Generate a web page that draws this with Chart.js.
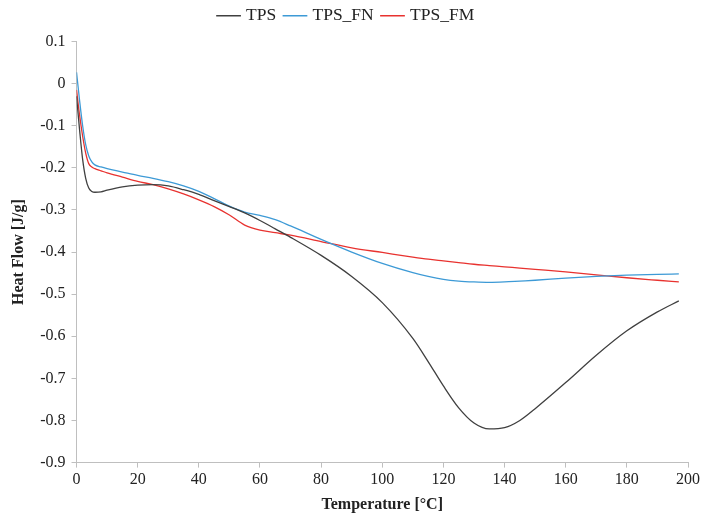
<!DOCTYPE html>
<html>
<head>
<meta charset="utf-8">
<script src="https://cdn.jsdelivr.net/npm/chart.js@4"></script>
<style>
  body { margin: 0; background: #fff; }
  #wrap { width: 703px; height: 522px; position: relative; }
</style>
</head>
<body>
<div id="wrap"><canvas id="myChart"></canvas></div>
<script>
// temperature [°C]
var temps = [0, 1, 2, 3, 4, 5, 6, 8, 10, 15, 20, 25, 30, 35, 40, 45, 50, 55, 60, 65, 70, 80, 90, 100, 110, 115, 120, 125, 130, 135, 140, 145, 150, 160, 170, 180, 190, 197];

// heat flow [J/g]
var tps = [-0.03, -0.11, -0.18, -0.225, -0.248, -0.256, -0.258, -0.257, -0.253, -0.245, -0.241, -0.24, -0.243, -0.252, -0.263, -0.278, -0.292, -0.307, -0.325, -0.345, -0.365, -0.408, -0.458, -0.52, -0.605, -0.66, -0.718, -0.77, -0.806, -0.82, -0.817, -0.8, -0.772, -0.71, -0.645, -0.587, -0.542, -0.516];
var tpsFN = [0.027, -0.04, -0.1, -0.145, -0.172, -0.186, -0.193, -0.198, -0.202, -0.21, -0.218, -0.225, -0.233, -0.243, -0.256, -0.273, -0.291, -0.305, -0.313, -0.323, -0.338, -0.37, -0.4, -0.427, -0.449, -0.458, -0.465, -0.469, -0.471, -0.472, -0.471, -0.469, -0.467, -0.462, -0.458, -0.455, -0.453, -0.452];
var tpsFM = [-0.015, -0.075, -0.125, -0.165, -0.19, -0.198, -0.202, -0.207, -0.212, -0.222, -0.232, -0.24, -0.25, -0.262, -0.276, -0.292, -0.312, -0.336, -0.348, -0.354, -0.36, -0.375, -0.39, -0.401, -0.412, -0.417, -0.421, -0.425, -0.429, -0.432, -0.435, -0.438, -0.441, -0.447, -0.454, -0.461, -0.467, -0.471];

var seriesNames = ["TPS", "TPS_FN", "TPS_FM"];
var lineColors = ["#404040", "#3d9ad6", "#e8322f"];

function toPoints(values) {
	return values.map(function (v, i) {
		return { x: temps[i], y: v };
	});
}

var axisFont = { family: "'Liberation Serif', 'Times New Roman', serif", size: 16 };
var legendFont = { family: "'Liberation Serif', 'Times New Roman', serif", size: 17.5 };
var titleFont = { family: "'Liberation Serif', 'Times New Roman', serif", size: 16, weight: "bold" };

// a bit more room under the legend
const legendGap = {
	id: "legendGap",
	beforeInit(chart) {
		const fit = chart.legend.fit;
		chart.legend.fit = function () {
			fit.bind(chart.legend)();
			this.height += 7;
		};
	},
};

const myChart = new Chart(document.getElementById("myChart"), {
	type: "line",
	data: {
		datasets: [tps, tpsFN, tpsFM].map(function (vals, i) {
			return {
				label: seriesNames[i],
				data: toPoints(vals),
				borderColor: lineColors[i],
				backgroundColor: lineColors[i],
				borderWidth: 1.3,
				pointRadius: 0,
				cubicInterpolationMode: "monotone",
				fill: false,
			};
		}),
	},
	plugins: [legendGap],
	options: {
		responsive: true,
		maintainAspectRatio: false,
		animation: false,
		layout: { padding: { left: 5, right: 14, top: -3, bottom: 4 } },
		plugins: {
			legend: {
				position: "top",
				labels: {
					usePointStyle: true,
					pointStyle: "line",
					boxWidth: 22,
					padding: 10,
					color: "#222",
					font: legendFont,
				},
			},
			tooltip: { enabled: false },
		},
		scales: {
			x: {
				type: "linear",
				min: 0,
				max: 200,
				ticks: { stepSize: 20, color: "#222", font: axisFont, maxRotation: 0 },
				grid: { drawOnChartArea: false, color: "#bfbfbf", tickLength: 5 },
				border: { color: "#bfbfbf" },
				title: { display: true, text: "Temperature [°C]", color: "#222", font: titleFont, padding: { top: 2 } },
			},
			y: {
				min: -0.9,
				max: 0.1,
				ticks: {
					stepSize: 0.1,
					color: "#222",
					font: axisFont,
					padding: 6,
					callback: function (v) { return String(Number(v.toFixed(1))); },
				},
				grid: { drawOnChartArea: false, color: "#bfbfbf", tickLength: 5 },
				border: { color: "#bfbfbf" },
				title: { display: true, text: "Heat Flow [J/g]", color: "#222", font: titleFont, padding: { bottom: 6 } },
			},
		},
	},
});
</script>
</body>
</html>
